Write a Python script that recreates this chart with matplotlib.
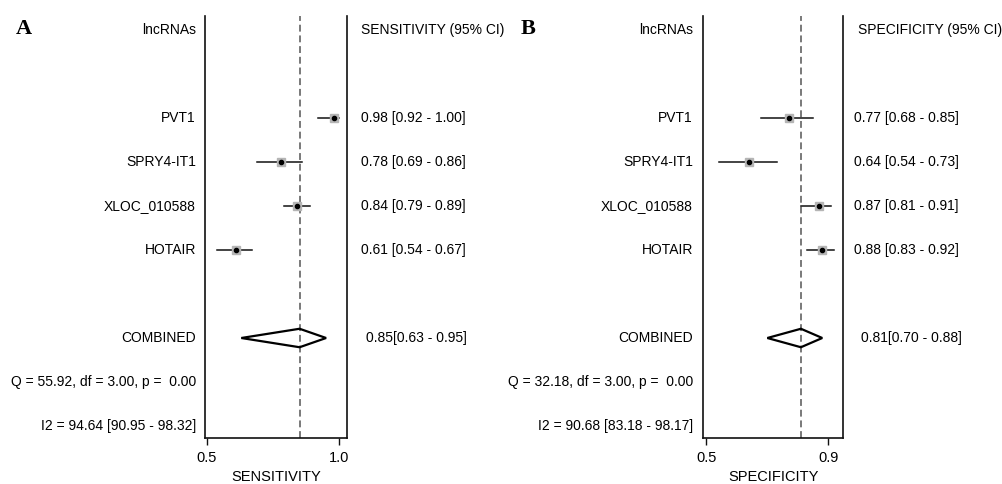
import matplotlib
matplotlib.use("Agg")
import matplotlib.pyplot as plt
from matplotlib.patches import Polygon
from matplotlib import transforms

plt.rcParams['font.family'] = ['Liberation Sans', 'DejaVu Sans']

# ---------------- data ----------------
lncrnas = ['PVT1', 'SPRY4-IT1', 'XLOC_010588', 'HOTAIR']

sens = [0.98, 0.78, 0.84, 0.61]
sens_lo = [0.92, 0.69, 0.79, 0.54]
sens_hi = [1.00, 0.86, 0.89, 0.67]
sens_comb = [0.85, 0.63, 0.95]
sens_q = "Q = 55.92, df = 3.00, p =  0.00"
sens_i2 = "I2 = 94.64 [90.95 - 98.32]"

spec = [0.77, 0.64, 0.87, 0.88]
spec_lo = [0.68, 0.54, 0.81, 0.83]
spec_hi = [0.85, 0.73, 0.91, 0.92]
spec_comb = [0.81, 0.70, 0.88]
spec_q = "Q = 32.18, df = 3.00, p =  0.00"
spec_i2 = "I2 = 90.68 [83.18 - 98.17]"

sens_ticks = [0.5, 1.0]
sens_ticklabels = ['0.5', '1.0']
spec_ticks = [0.5, 0.9]
spec_ticklabels = ['0.5', '0.9']

W, H = 1003, 484
fig = plt.figure(figsize=(W / 100, H / 100), dpi=100)

TOP, BOT = 16, 437.5
ROW0, ROWH = 30, 44


def panel(letter, ax_left, ax_right, xlim, est, lo, hi, comb, q, i2,
          ticks, ticklabels, xlabel, header, lab_right, val_x, head_x,
          comb_x, letter_x):
    ax = fig.add_axes([ax_left / W, (H - BOT) / H,
                       (ax_right - ax_left) / W, (BOT - TOP) / H])
    ax.set_xlim(*xlim)
    ax.set_ylim((BOT - ROW0) / ROWH, (TOP - ROW0) / ROWH)
    for s in ['left', 'right', 'bottom']:
        ax.spines[s].set_linewidth(1.2)
        ax.spines[s].set_color('#111111')
    ax.spines['top'].set_visible(False)
    ax.set_yticks([])
    ax.set_xticks(ticks)
    ax.set_xticklabels(ticklabels, fontsize=10.5)
    ax.tick_params(axis='x', length=5, width=1, pad=4.5, color='#111111')
    ax.set_xlabel(xlabel, fontsize=10.5, labelpad=3.5)

    rows = [2, 3, 4, 5]
    # combined vertical dashed line
    ax.axvline(comb[0], color='#555555', lw=1.1, ls=(0, (4.5, 2.5)), zorder=1)
    for r, e, l, h in zip(rows, est, lo, hi):
        ax.plot([l, h], [r, r], color='#111111', lw=1.1, zorder=2)
        ax.plot([e], [r], marker='s', ms=6.3, mfc='#b5b5b5', mec='#b5b5b5',
                zorder=3)
        ax.plot([e], [r], marker='o', ms=3, mfc='black', mec='black',
                zorder=4)
    hh = 0.21
    dia = Polygon([[comb[1], 7], [comb[0], 7 - hh], [comb[2], 7],
                   [comb[0], 7 + hh]], closed=True, fill=False,
                  ec='black', lw=1.6, zorder=5)
    ax.add_patch(dia)

    tleft = transforms.blended_transform_factory(fig.transFigure, ax.transData)
    fs = 10
    ax.text(lab_right / W, 0, 'lncRNAs', transform=tleft, ha='right',
            va='center', fontsize=fs)
    for r, name in zip(rows, lncrnas):
        ax.text(lab_right / W, r, name, transform=tleft, ha='right',
                va='center', fontsize=fs)
    ax.text(lab_right / W, 7, 'COMBINED', transform=tleft, ha='right',
            va='center', fontsize=fs)
    ax.text(lab_right / W, 8, q, transform=tleft, ha='right',
            va='center', fontsize=fs)
    ax.text(lab_right / W, 9, i2, transform=tleft, ha='right',
            va='center', fontsize=fs)

    ax.text(head_x / W, 0, header, transform=tleft, ha='left',
            va='center', fontsize=fs)
    for r, e, l, h in zip(rows, est, lo, hi):
        ax.text(val_x / W, r, f"{e:.2f} [{l:.2f} - {h:.2f}]",
                transform=tleft, ha='left', va='center', fontsize=fs)
    ax.text(comb_x / W, 7, f"{comb[0]:.2f}[{comb[1]:.2f} - {comb[2]:.2f}]",
            transform=tleft, ha='left', va='center', fontsize=fs)

    fig.text(letter_x / W, (H - 29) / H, letter, ha='left', va='center',
             fontsize=16, fontweight='bold',
             family=['Liberation Serif', 'DejaVu Serif'])
    return ax


panel('A', 205.5, 347.3, (0.495, 1.03), sens, sens_lo, sens_hi, sens_comb,
      sens_q, sens_i2, sens_ticks, sens_ticklabels, 'SENSITIVITY',
      'SENSITIVITY (95% CI)', 196, 361, 361, 366, 16)
panel('B', 703.3, 843.3, (0.49, 0.949), spec, spec_lo, spec_hi, spec_comb,
      spec_q, spec_i2, spec_ticks, spec_ticklabels, 'SPECIFICITY',
      'SPECIFICITY (95% CI)', 693, 854, 858, 861, 521)

fig.savefig('out.png', dpi=100)
